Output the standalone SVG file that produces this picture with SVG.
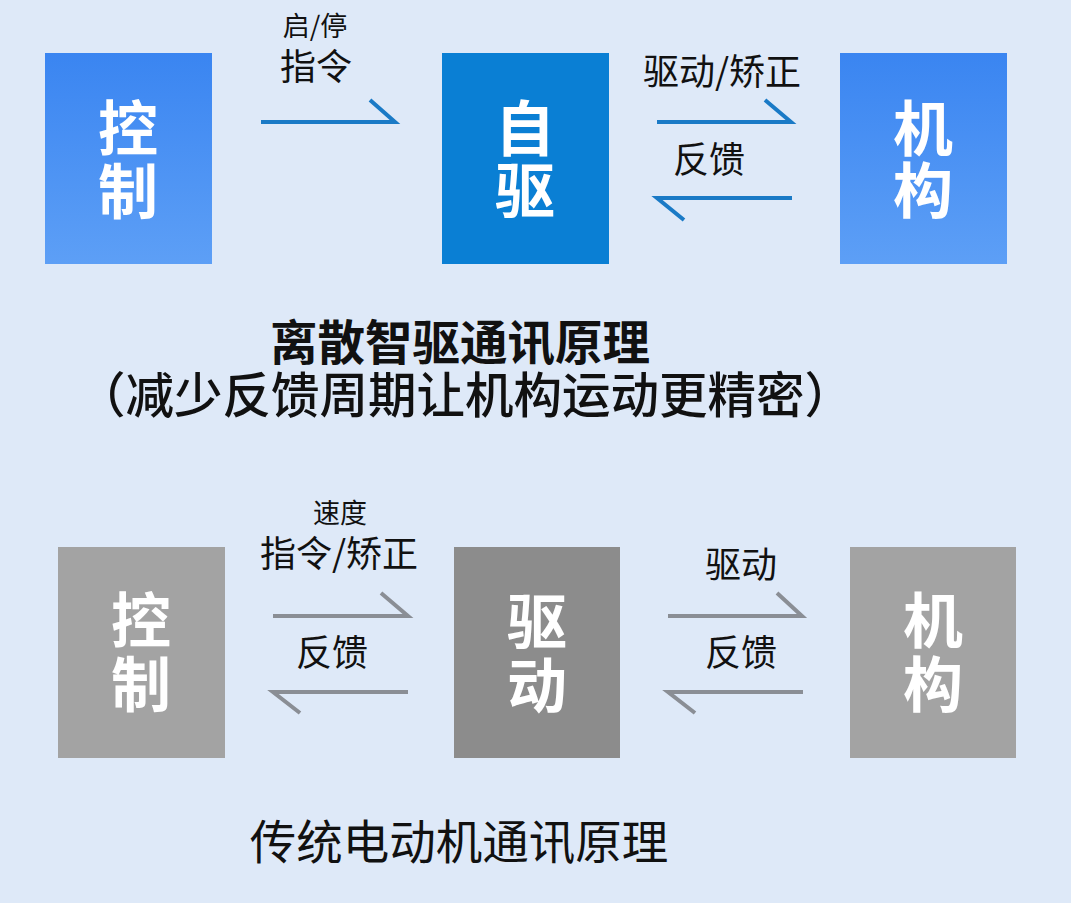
<svg xmlns="http://www.w3.org/2000/svg" width="1071" height="903" viewBox="0 0 1071 903">
<defs>
<linearGradient id="gBlue" x1="0" y1="0" x2="0" y2="1">
<stop offset="0" stop-color="#3a85f1"/>
<stop offset="1" stop-color="#5d9ff6"/>
</linearGradient>
<style>
text{font-family:"Noto Sans CJK SC","Noto Sans",sans-serif;}
.box-t{fill:#ffffff;font-size:60px;font-weight:700;text-anchor:middle;}
.lbl{fill:#111111;font-size:36px;text-anchor:middle;}
.lbls{fill:#111111;font-size:27px;text-anchor:middle;}
.ttl{fill:#111111;text-anchor:middle;}
.blue{fill:none;stroke:#1a7ac6;stroke-width:4;}
.gray{fill:none;stroke:#8a8e95;stroke-width:4;}
</style>
</defs>
<rect x="0" y="0" width="1071" height="903" fill="#dee9f8"/>

<g id="top-control">
<rect x="45" y="53" width="167" height="211" fill="url(#gBlue)"/>
<text class="box-t"><tspan x="128" y="151">控</tspan><tspan x="128" y="214">制</tspan></text>
</g>
<g id="top-selfdrive">
<rect x="442" y="53" width="167" height="211" fill="#0a7fd4"/>
<text class="box-t"><tspan x="525" y="151">自</tspan><tspan x="525" y="213">驱</tspan></text>
</g>
<g id="top-mechanism">
<rect x="840" y="53" width="167" height="211" fill="url(#gBlue)"/>
<text class="box-t"><tspan x="923" y="151">机</tspan><tspan x="923" y="213">构</tspan></text>
</g>

<g id="bottom-control">
<rect x="58" y="547" width="167" height="211" fill="#a3a3a3"/>
<text class="box-t"><tspan x="141" y="643">控</tspan><tspan x="141" y="707">制</tspan></text>
</g>
<g id="bottom-drive">
<rect x="454" y="547" width="166" height="211" fill="#8c8c8c"/>
<text class="box-t"><tspan x="537" y="644">驱</tspan><tspan x="537" y="708">动</tspan></text>
</g>
<g id="bottom-mechanism">
<rect x="850" y="547" width="166" height="211" fill="#a3a3a3"/>
<text class="box-t"><tspan x="933" y="643">机</tspan><tspan x="933" y="707">构</tspan></text>
</g>

<g id="connectors">
<polyline class="blue" points="261,122 395,122 370,100"/>
<polyline class="blue" points="657,122 791,122 765,100"/>
<polyline class="blue" points="792,198 657,198 684,220"/>
<polyline class="gray" points="273,616 408,616 381,593"/>
<polyline class="gray" points="408,692 273,692 300,713"/>
<polyline class="gray" points="668,616 802,616 777,593"/>
<polyline class="gray" points="803,692 668,692 695,713"/>
</g>

<g id="labels">
<text class="lbls" x="315" y="36">启/停</text>
<text class="lbl" x="316" y="80">指令</text>
<text class="lbl" x="722" y="85">驱动/矫正</text>
<text class="lbl" x="709" y="173">反馈</text>
<text class="lbls" x="340" y="523" font-size="28">速度</text>
<text class="lbl" x="339" y="567">指令/矫正</text>
<text class="lbl" x="332" y="666">反馈</text>
<text class="lbl" x="741" y="578">驱动</text>
<text class="lbl" x="741" y="666">反馈</text>
</g>

<g id="titles">
<text class="ttl" x="460" y="360" font-size="47.5" font-weight="700">离散智驱通讯原理</text>
<text class="ttl" x="465" y="413" font-size="48.5" font-weight="500">（减少反馈周期让机构运动更精密）</text>
<text class="ttl" x="459" y="859" font-size="46.5">传统电动机通讯原理</text>
</g>
</svg>
